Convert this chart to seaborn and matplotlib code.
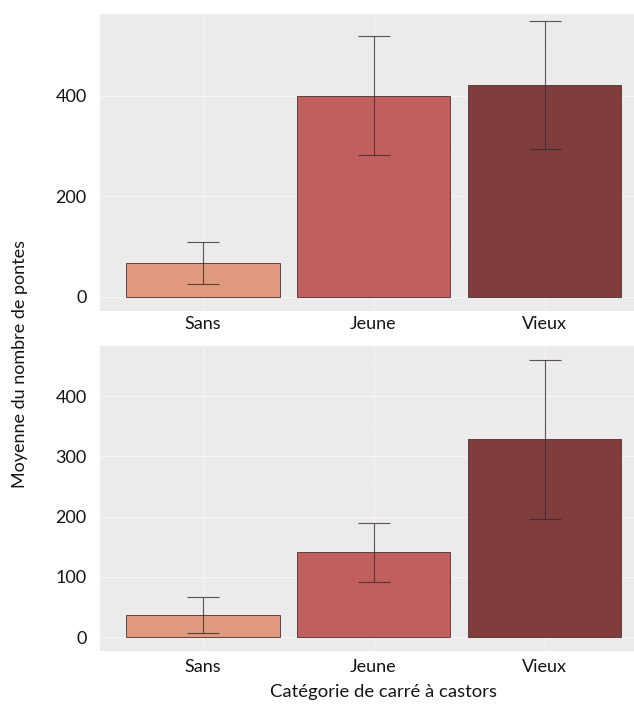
import numpy as np
import matplotlib
matplotlib.use("Agg")
import matplotlib.pyplot as plt
from matplotlib.ticker import MultipleLocator
import seaborn as sns

sns.set_style("white")
plt.rcParams['font.family'] = ['Lato', 'DejaVu Sans']

# data
categories = ["Sans", "Jeune", "Vieux"]
palette = ["#E0997C", "#C05F5D", "#7F3D3E"]

top_means = [67, 400, 422]
top_low = [26, 283, 294]
top_high = [109, 520, 550]

bottom_means = [36, 141, 329]
bottom_low = [7, 91, 196]
bottom_high = [66, 189, 459]

W, H = 634, 706
fig = plt.figure(figsize=(W / 100, H / 100), dpi=100)


def px_axes(left, top, right, bottom):
    return fig.add_axes([left / W, 1 - bottom / H, (right - left) / W, (bottom - top) / H])


def panel(ax, means, low, high, ylim, major, xpad):
    ax.set_facecolor("#EBEBEB")
    sns.barplot(x=categories, y=means, hue=categories, palette=palette, width=0.9,
                saturation=1, edgecolor="#4a3030", linewidth=0.6, legend=False,
                ax=ax, zorder=2)
    yerr = [np.array(means) - np.array(low), np.array(high) - np.array(means)]
    ax.errorbar(categories, means, yerr=yerr, fmt="none", ecolor="#3a2a2a",
                elinewidth=0.8, capsize=11.5, capthick=0.8, alpha=0.8, zorder=3)
    ax.set_xlim(-0.6, (W - 202.5) / 171)
    ax.set_ylim(*ylim)
    ax.yaxis.set_major_locator(MultipleLocator(major))
    ax.yaxis.set_minor_locator(MultipleLocator(major / 2))
    ax.grid(which="major", color="#F6F6F6", linewidth=0.8, zorder=0)
    ax.grid(which="minor", axis="y", color="#F2F2F2", linewidth=0.4, zorder=0)
    ax.set_axisbelow(True)
    for s in ax.spines.values():
        s.set_visible(False)
    ax.tick_params(axis="both", which="major", length=2.5, width=0.6, color="#999999",
                   labelsize=13, labelcolor="#141414")
    ax.tick_params(axis="x", pad=xpad)
    ax.tick_params(axis="y", pad=7)
    ax.tick_params(which="minor", length=0)
    ax.set_xlabel("")
    ax.set_ylabel("")


ax1 = px_axes(100, 14, W, 311)
panel(ax1, top_means, top_low, top_high, (-27.9, 563), 200, 1)

ax2 = px_axes(100, 346, W, 651)
panel(ax2, bottom_means, bottom_low, bottom_high, (-23.2, 483), 100, 3)

fig.text(20 / W, 1 - 364 / H, "Moyenne du nombre de pontes", rotation=90,
         ha="center", va="center", fontsize=13, color="#141414")
fig.text(383 / W, 1 - 692 / H, "Catégorie de carré à castors",
         ha="center", va="center", fontsize=13.3, color="#141414")

fig.savefig("out.png", dpi=100, facecolor="white")
